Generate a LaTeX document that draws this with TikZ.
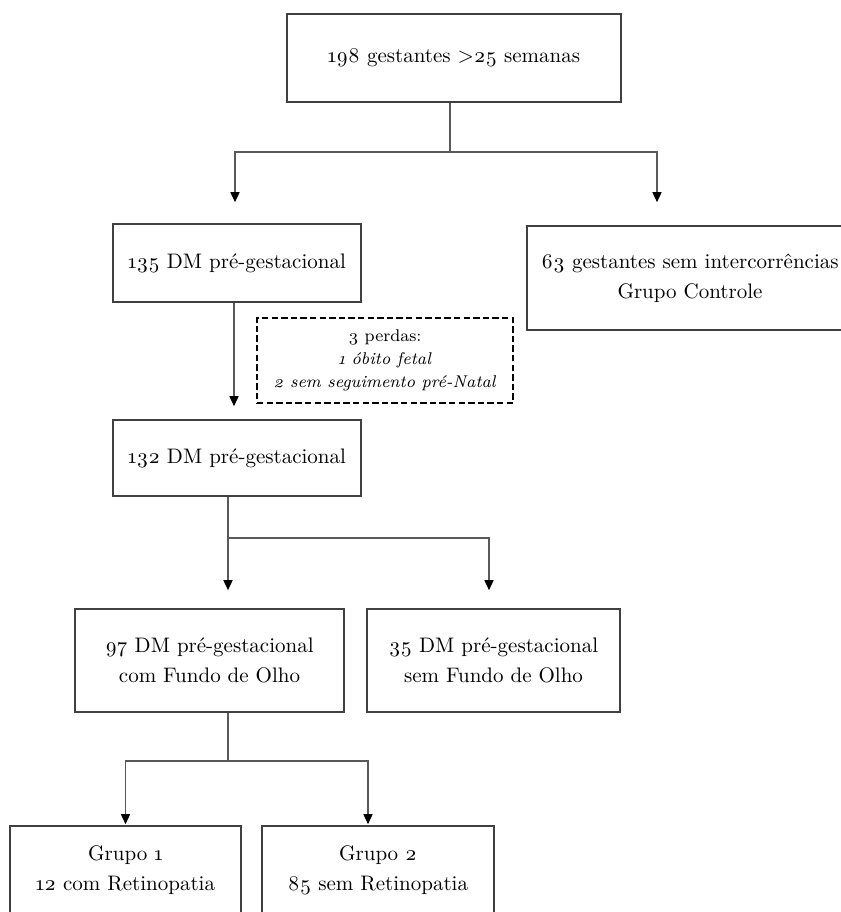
\documentclass[tikz,border=0pt]{standalone}
\usepackage{fontspec}
\setmainfont{Latin Modern Roman}[Numbers=OldStyle]
\usepackage{tikz}
\usetikzlibrary{arrows.meta, positioning, calc}

\tikzset{
	box/.style={draw=black!75, line width=0.8pt, align=center, inner sep=0pt,
		font=\fontsize{10.5}{15}\selectfont},
	lossbox/.style={draw=black, line width=1.3pt, dash pattern=on 3.2pt off 1.6pt,
		align=center, inner sep=0pt, font=\fontsize{8.5}{11.5}\selectfont},
	conn/.style={draw=black!65, line width=0.75pt},
	arr/.style={conn, -{Triangle[length=5pt, width=4.5pt, color=black]}},
}

\begin{document}
\begin{tikzpicture}[x=0.5pt, y=-0.5pt]
			
			\useasboundingbox (0,0) rectangle (841,912);
			
			% ---------- Top ----------
			\node[box, minimum width=167pt, minimum height=44pt] (total) at (454,58) {198 gestantes >25 semanas};
			\coordinate (fork1) at (450,152);
			
			% ---------- First split ----------
			\node[box, minimum width=124pt, minimum height=39pt] (dm135) at (237,263) {135 DM pré-gestacional};
			\node[box, minimum width=163pt, minimum height=52pt] (controle) at (690,278) {63 gestantes sem intercorrências\\Grupo Controle};
			
			\draw[conn] (total.south -| fork1) -- (fork1);
			\draw[arr, shorten >=10.5pt] (fork1) -| ([xshift=-1pt]dm135.north);
			\draw[arr, shorten >=11.5pt] (fork1) -| ([xshift=-16.5pt]controle.north);
			
			% ---------- Losses ----------
			\node[lossbox, minimum width=128pt, minimum height=42.5pt] (perdas) at (385,360.5) {3 perdas:\\\textit{1 óbito fetal}\\\textit{2 sem seguimento pré-Natal}};
			\node[box, minimum width=124pt, minimum height=38pt] (dm132) at (237,458) {132 DM pré-gestacional};
			
			\draw[arr, shorten >=6.5pt] ([xshift=-1.5pt]dm135.south) -- ([xshift=-1.5pt]dm132.north);
			
			% ---------- Fundo de Olho ----------
			\coordinate (fork2) at (228,538);
			\node[box, minimum width=134.5pt, minimum height=51.5pt] (comfo) at (209.5,660.5) {97 DM pré-gestacional\\com Fundo de Olho};
			\node[box, minimum width=126.5pt, minimum height=51.5pt] (semfo) at (493.5,660.5) {35 DM pré-gestacional\\sem Fundo de Olho};
			
			\draw[conn] (dm132.south -| fork2) -- (fork2);
			\draw[arr, shorten >=9pt] (fork2) -- (fork2 |- comfo.north);
			\draw[arr, shorten >=9pt] (fork2) -| ([xshift=-2.25pt]semfo.north);
			
			% ---------- Grupos ----------
			\coordinate (fork3) at (228,761);
			\node[box, minimum width=115.5pt, minimum height=44pt] (grupo1) at (125.5,870) {Grupo 1\\12 com Retinopatia};
			\node[box, minimum width=116pt, minimum height=44pt] (grupo2) at (378,870) {Grupo 2\\85 sem Retinopatia};
			
			\draw[conn] (comfo.south -| fork3) -- (fork3);
			\draw[arr, shorten >=0.5pt] (fork3) -| (grupo1.north);
			\draw[arr, shorten >=0.5pt] (fork3) -| ([xshift=-5pt]grupo2.north);
			
		\end{tikzpicture}
\end{document}
